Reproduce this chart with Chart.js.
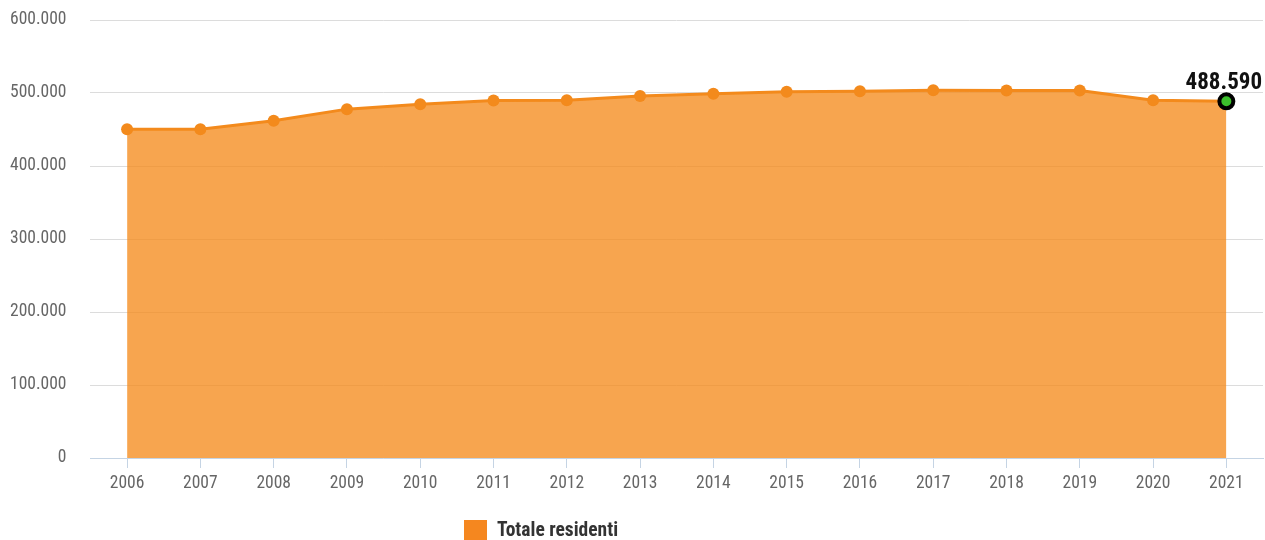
<!DOCTYPE html>
<html>
<head>
<meta charset="utf-8">
<script src="https://cdn.jsdelivr.net/npm/chart.js@4"></script>
<style>
  body { margin: 0; background: #fff; }
  #wrap { position: relative; width: 1265px; height: 540px; }
  #legend {
    position: absolute; left: 464px; top: 519px;
    font-family: "Roboto Condensed", "Liberation Sans Narrow", Roboto, sans-serif;
    font-weight: bold; font-size: 19.5px; color: #333;
    display: flex; align-items: center; line-height: 22px;
  }
  #legend span.box { display: inline-block; width: 23px; height: 20px; background: #f5871f; margin-right: 10px; }
</style>
</head>
<body>
<div id="wrap">
  <canvas id="myChart" width="1265" height="540"></canvas>
  <div id="legend"><span class="box"></span>Totale residenti</div>
</div>
<script>
// anni e residenti
const years = ["2006", "2007", "2008", "2009", "2010", "2011", "2012", "2013",
  "2014", "2015", "2016", "2017", "2018", "2019", "2020", "2021"];
const residents = [450200, 450400, 461900, 477900, 484500, 489800, 490100, 496000,
  498900, 501800, 502500, 503700, 503500, 503500, 490000, 488590];
const yTicks = [0, 100000, 200000, 300000, 400000, 500000, 600000];

const fontName = "'Roboto Condensed', 'Liberation Sans Narrow', Roboto, sans-serif";

function formatIt(v) {
  return String(v).replace(/\B(?=(\d{3})+(?!\d))/g, ".");
}

var last = residents.length - 1;

// etichetta sull'ultimo punto
const lastLabel = {
  id: "lastLabel",
  afterDatasetsDraw(chart) {
    var pt = chart.getDatasetMeta(0).data[last];
    var c = chart.ctx;
    c.save();
    c.font = "bold 23px " + fontName;
    c.fillStyle = "#111";
    c.textAlign = "right";
    c.textBaseline = "alphabetic";
    c.fillText(formatIt(residents[last]), chart.chartArea.right - 1, pt.y - 12);
    c.restore();
  }
};

new Chart(document.getElementById("myChart"), {
  type: "line",
  data: {
    labels: years,
    datasets: [{
      label: "Totale residenti",
      data: residents,
      borderColor: "#f38a1c",
      backgroundColor: "rgba(245,140,30,0.78)",
      borderWidth: 3,
      fill: "origin",
      tension: 0,
      pointRadius: residents.map((v, i) => i === last ? 7 : 6),
      pointBorderWidth: residents.map((v, i) => i === last ? 4 : 0),
      pointBackgroundColor: residents.map((v, i) => i === last ? "#3bbf2b" : "#f38a1c"),
      pointBorderColor: residents.map((v, i) => i === last ? "#000" : "#f38a1c"),
    }],
  },
  options: {
    responsive: false,
    animation: false,
    layout: { autoPadding: false, padding: { top: 20, left: 10, right: 2, bottom: 41 } },
    plugins: { legend: { display: false }, tooltip: { enabled: false } },
    scales: {
      x: {
        offset: true,
        grid: { offset: false, drawOnChartArea: false, drawTicks: true, tickLength: 10, color: "#c5d4e4" },
        border: { display: true, color: "#c5d4e4", width: 1 },
        ticks: { color: "#666", font: { family: fontName, size: 17.5 }, padding: 5, maxRotation: 0 },
      },
      y: {
        min: 0,
        max: 600000,
        afterBuildTicks: (axis) => { axis.ticks = yTicks.map((v) => ({ value: v })); },
        grid: { color: "#dcdcdc", drawTicks: true, tickLength: 24, tickColor: "rgba(0,0,0,0)" },
        border: { display: false },
        ticks: { color: "#666", font: { family: fontName, size: 17.5 }, padding: 0, callback: (v) => formatIt(v) },
      },
    },
  },
  plugins: [lastLabel],
});
</script>
</body>
</html>
